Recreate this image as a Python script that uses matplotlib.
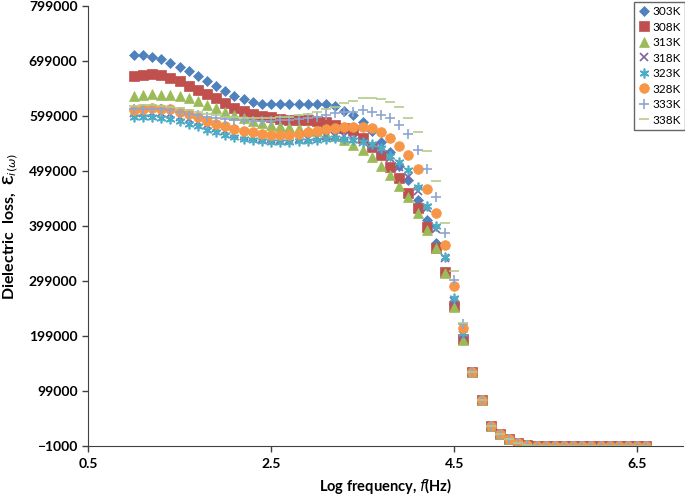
import matplotlib
matplotlib.use("Agg")
import matplotlib.pyplot as plt
import numpy as np

plt.rcParams['font.family'] = ['Lato', 'DejaVu Sans']

# log frequency grid
log_f = np.round(np.arange(10, 67) / 10, 1)

# common high-frequency tail (4.7 ... 6.6), in thousands
tail = [134, 83, 36, 20, 12, 5, 1] + [-1] * 13

# dielectric loss values in thousands (1.0 ... 4.6), then tail
eps_303 = [709, 709, 707, 703, 696, 688, 680, 671, 662, 653, 644, 635, 629, 624, 621,
           620, 620, 620, 620, 620, 620, 620, 618, 608, 601, 588, 571, 552, 534, 508,
           483, 446, 410, 368, 315, 258, 197] + tail
eps_308 = [671, 674, 675, 674, 668, 662, 653, 646, 639, 632, 622, 613, 608, 603, 599,
           597, 594, 592, 592, 592, 590, 588, 582, 577, 574, 559, 543, 528, 506, 486,
           459, 432, 397, 359, 315, 254, 193] + tail
eps_313 = [635, 638, 639, 638, 637, 635, 632, 626, 619, 613, 607, 601, 595, 590, 586,
           583, 581, 579, 577, 574, 571, 567, 562, 555, 546, 538, 524, 508, 492, 472,
           452, 423, 392, 359, 314, 252, 192] + tail
eps_318 = [605, 605, 605, 604, 602, 598, 594, 588, 582, 577, 572, 567, 563, 560, 558,
           557, 556, 556, 557, 558, 560, 562, 563, 562, 558, 552, 545, 535, 522, 506,
           488, 462, 432, 393, 340, 262, 200] + tail
eps_323 = [597, 597, 597, 596, 594, 590, 585, 580, 574, 569, 564, 560, 557, 555, 553,
           552, 552, 552, 553, 554, 556, 558, 559, 558, 556, 552, 548, 540, 527, 515,
           501, 470, 435, 399, 343, 268, 205] + tail
eps_328 = [609, 611, 613, 612, 611, 607, 603, 597, 590, 585, 581, 576, 572, 569, 566,
           565, 564, 565, 566, 569, 572, 575, 578, 579, 579, 579, 577, 570, 559, 544,
           528, 503, 466, 423, 364, 290, 214] + tail
eps_333 = [612, 612, 612, 611, 609, 606, 603, 600, 597, 595, 593, 592, 591, 590, 590,
           590, 591, 592, 594, 596, 598, 601, 604, 606, 607, 610, 606, 601, 596, 583,
           566, 537, 503, 452, 386, 300, 220] + tail
eps_338 = [618, 619, 619, 618, 616, 613, 610, 606, 603, 600, 598, 597, 596, 596, 596,
           596, 597, 598, 600, 602, 606, 611, 616, 622, 627, 631, 632, 630, 624, 615,
           595, 570, 535, 481, 404, 318, 223] + tail

series = [
    ('303K', eps_303, 'D', '#4F81BD', 5.5),
    ('308K', eps_308, 's', '#C0504D', 6.5),
    ('313K', eps_313, '^', '#9BBB59', 6.5),
    ('318K', eps_318, 'x', '#8064A2', 6),
    ('323K', eps_323, (6, 2, 0), '#4BACC6', 7),
    ('328K', eps_328, 'o', '#F79646', 7),
    ('333K', eps_333, '+', '#8EA5CF', 7.5),
    ('338K', eps_338, '_', '#B3CD8A', 7.5),
]
thin = ('x', '+', '_', (6, 2, 0))

fig = plt.figure(figsize=(6.85, 4.97), dpi=100)
ax = fig.add_axes([88 / 685, 1 - 446 / 497, 595 / 685, 440 / 497])

for label, vals, marker, color, ms in series:
    ax.plot(log_f, np.array(vals) * 1000, linestyle='none', marker=marker, color=color,
            markersize=ms, markeredgewidth=1.2 if marker in thin else 0.5,
            label=label)

ax.set_xlim(0.5, 7.0)
ax.set_ylim(-1000, 799000)
ax.set_xticks([0.5, 2.5, 4.5, 6.5])
ax.set_yticks(np.arange(-1000, 800000, 100000))
ax.tick_params(axis='both', labelsize=10, color='#404040', length=4, width=1)
ax.tick_params(axis='x', pad=5)
for t in ax.get_xticklabels() + ax.get_yticklabels():
    t.set_fontweight('bold')

ax.spines['top'].set_visible(False)
ax.spines['right'].set_visible(False)
ax.spines['left'].set_color('#404040')
ax.spines['bottom'].set_color('#404040')

ax.set_xlabel(r'Log frequency, $\mathit{f}$(Hz)', fontsize=10.5, fontweight='bold', labelpad=4)
ax.set_ylabel('Dielectric  loss,  \u0190' + r'$_{i(\omega)}$', fontsize=11.5,
              fontweight='bold', labelpad=6)

leg = ax.legend(loc='upper right', bbox_to_anchor=(1.0, 0.996), bbox_transform=fig.transFigure,
                fontsize=8.5, frameon=True, fancybox=False, handlelength=0.9,
                handletextpad=0.3, labelspacing=0.38, borderpad=0.35, borderaxespad=0)
leg.get_frame().set_edgecolor('#404040')
leg.get_frame().set_linewidth(1.0)

fig.savefig('out.png', dpi=100)
